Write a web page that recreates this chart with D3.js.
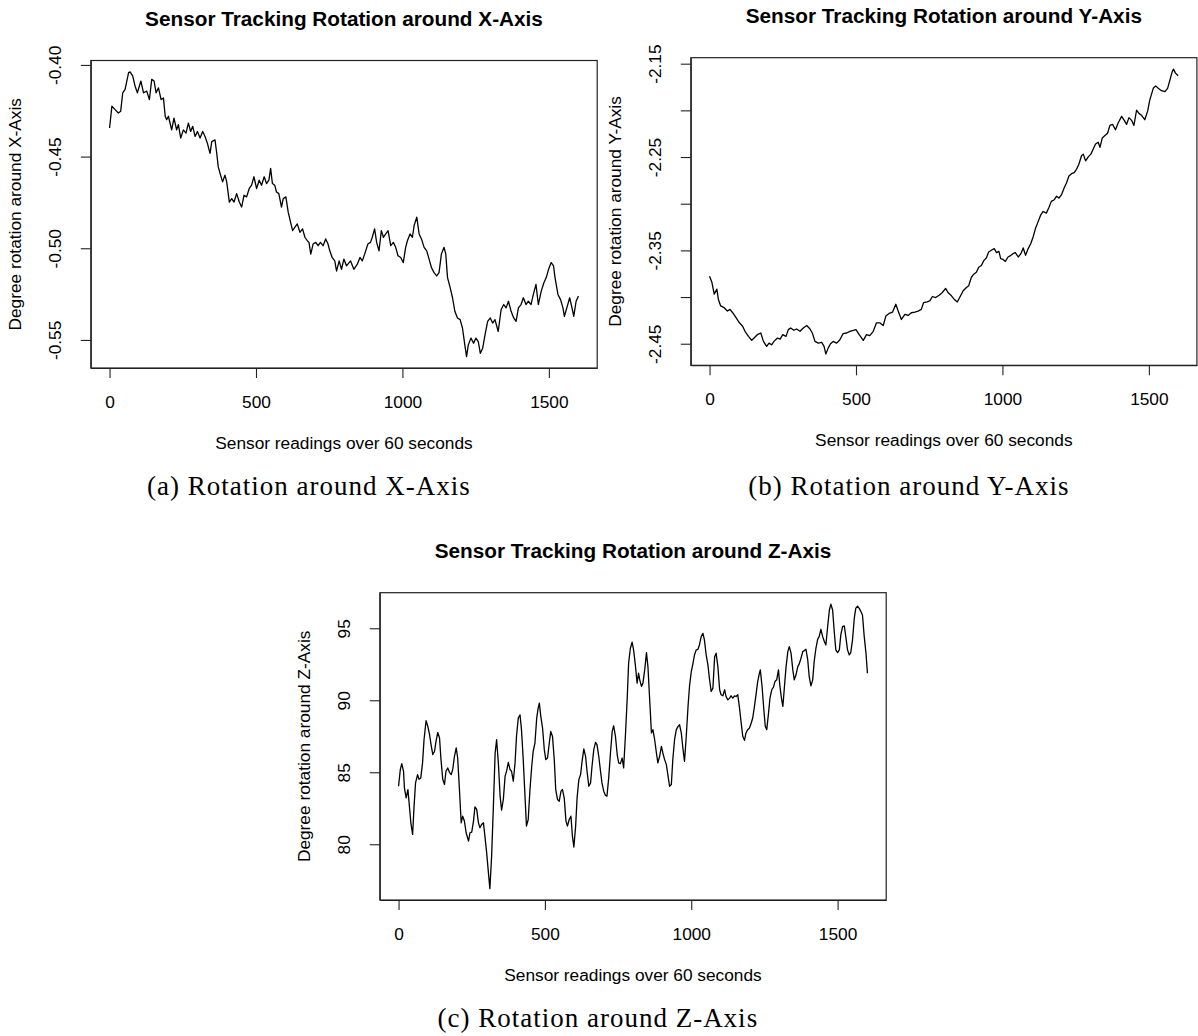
<!DOCTYPE html>
<html>
<head>
<meta charset="utf-8">
<script src="https://cdn.jsdelivr.net/npm/d3@7"></script>
<style>
  body { margin: 0; background: #fff; }
</style>
</head>
<body>
<div id="chart"></div>
<script>
// readings (index, degrees)
const rotationX = [[0,-0.4344],[8,-0.4225],[19,-0.4244],[30,-0.4262],[38,-0.4253],[45,-0.4152],[53,-0.4134],[65,-0.4042],[70,-0.4038],[79,-0.4060],
  [87,-0.4115],[95,-0.4152],[107,-0.4088],[116,-0.4152],[127,-0.4143],[136,-0.4189],[144,-0.4079],[152,-0.4088],[159,-0.4152],[167,-0.4125],
  [176,-0.4189],[184,-0.4180],[190,-0.4280],[195,-0.4299],[201,-0.4280],[212,-0.4354],[220,-0.4290],[229,-0.4354],[235,-0.4326],[243,-0.4399],
  [252,-0.4354],[261,-0.4372],[269,-0.4317],[277,-0.4363],[284,-0.4335],[292,-0.4390],[300,-0.4363],[309,-0.4399],[318,-0.4363],[326,-0.4390],
  [334,-0.4427],[343,-0.4482],[349,-0.4418],[360,-0.4409],[366,-0.4482],[371,-0.4555],[379,-0.4601],[386,-0.4638],[394,-0.4601],[400,-0.4638],
  [409,-0.4748],[417,-0.4729],[425,-0.4748],[434,-0.4702],[443,-0.4748],[451,-0.4775],[459,-0.4711],[468,-0.4720],[477,-0.4674],[485,-0.4656],
  [493,-0.4610],[502,-0.4674],[511,-0.4629],[519,-0.4656],[528,-0.4610],[536,-0.4647],[544,-0.4629],[550,-0.4564],[556,-0.4647],[564,-0.4656],
  [570,-0.4693],[578,-0.4702],[587,-0.4775],[593,-0.4729],[602,-0.4720],[610,-0.4803],[618,-0.4858],[625,-0.4904],[633,-0.4885],[641,-0.4867],
  [650,-0.4913],[659,-0.4894],[667,-0.4940],[675,-0.4959],[681,-0.4968],[687,-0.5032],[695,-0.4977],[704,-0.4968],[712,-0.4986],[720,-0.4968],
  [729,-0.4986],[738,-0.4949],[746,-0.4977],[752,-0.5014],[760,-0.5050],[769,-0.5069],[775,-0.5124],[784,-0.5069],[792,-0.5115],[800,-0.5059],
  [809,-0.5096],[823,-0.5069],[834,-0.5115],[846,-0.5087],[855,-0.5050],[863,-0.5069],[871,-0.5032],[882,-0.4977],[891,-0.4968],[897,-0.4940],
  [905,-0.4894],[912,-0.4968],[920,-0.5014],[928,-0.4904],[935,-0.4940],[943,-0.4922],[951,-0.4904],[960,-0.4986],[969,-0.4968],[977,-0.4995],
  [985,-0.5041],[994,-0.5050],[1003,-0.5078],[1011,-0.4995],[1017,-0.4959],[1026,-0.4922],[1034,-0.4940],[1040,-0.4876],[1049,-0.4830],[1057,-0.4922],
  [1065,-0.4949],[1074,-0.4995],[1083,-0.5014],[1091,-0.5059],[1099,-0.5105],[1108,-0.5133],[1117,-0.5151],[1125,-0.5133],[1133,-0.5032],[1142,-0.4995],
  [1148,-0.5032],[1154,-0.5160],[1163,-0.5215],[1171,-0.5270],[1179,-0.5344],[1188,-0.5380],[1197,-0.5389],[1205,-0.5435],[1213,-0.5527],[1219,-0.5591],
  [1225,-0.5527],[1234,-0.5490],[1243,-0.5518],[1251,-0.5490],[1259,-0.5509],[1266,-0.5573],[1274,-0.5545],[1282,-0.5472],[1291,-0.5399],[1300,-0.5380],
  [1308,-0.5408],[1316,-0.5389],[1327,-0.5454],[1337,-0.5334],[1346,-0.5307],[1354,-0.5325],[1362,-0.5289],[1371,-0.5344],[1380,-0.5380],[1388,-0.5399],
  [1396,-0.5325],[1405,-0.5307],[1413,-0.5270],[1422,-0.5307],[1430,-0.5289],[1439,-0.5307],[1447,-0.5252],[1456,-0.5197],[1464,-0.5307],[1474,-0.5234],
  [1483,-0.5188],[1491,-0.5160],[1499,-0.5115],[1508,-0.5078],[1516,-0.5096],[1521,-0.5160],[1531,-0.5252],[1540,-0.5280],[1548,-0.5325],[1553,-0.5371],
  [1563,-0.5316],[1571,-0.5270],[1579,-0.5325],[1585,-0.5371],[1593,-0.5289],[1601,-0.5261]];

const rotationY = [[0,-2.3777],[8,-2.3842],[16,-2.3969],[25,-2.3915],[30,-2.4023],[38,-2.4095],[50,-2.4114],[61,-2.4150],[70,-2.4132],[79,-2.4168],
  [91,-2.4222],[102,-2.4276],[113,-2.4312],[121,-2.4367],[133,-2.4421],[144,-2.4464],[152,-2.4439],[163,-2.4403],[175,-2.4385],[184,-2.4475],
  [195,-2.4529],[203,-2.4493],[212,-2.4511],[220,-2.4475],[232,-2.4439],[241,-2.4450],[250,-2.4403],[261,-2.4421],[269,-2.4349],[277,-2.4331],
  [288,-2.4356],[297,-2.4342],[309,-2.4367],[320,-2.4331],[332,-2.4305],[343,-2.4342],[351,-2.4385],[360,-2.4475],[371,-2.4493],[383,-2.4486],
  [391,-2.4529],[397,-2.4609],[405,-2.4547],[413,-2.4500],[422,-2.4475],[434,-2.4493],[445,-2.4457],[456,-2.4392],[468,-2.4385],[479,-2.4367],
  [491,-2.4356],[500,-2.4349],[511,-2.4403],[525,-2.4464],[536,-2.4403],[547,-2.4414],[559,-2.4367],[570,-2.4276],[581,-2.4276],[593,-2.4305],
  [602,-2.4204],[613,-2.4175],[625,-2.4161],[636,-2.4077],[644,-2.4150],[655,-2.4240],[667,-2.4186],[678,-2.4197],[689,-2.4168],[701,-2.4161],
  [712,-2.4150],[723,-2.4132],[731,-2.4059],[743,-2.4052],[752,-2.4041],[761,-2.3994],[772,-2.4005],[784,-2.3980],[795,-2.3951],[806,-2.3907],
  [814,-2.3951],[826,-2.3987],[837,-2.4030],[846,-2.4052],[854,-2.4005],[866,-2.3933],[877,-2.3897],[885,-2.3878],[894,-2.3788],[903,-2.3752],
  [911,-2.3734],[919,-2.3680],[928,-2.3662],[937,-2.3607],[945,-2.3582],[953,-2.3517],[962,-2.3499],[972,-2.3481],[980,-2.3524],[988,-2.3510],
  [994,-2.3589],[1002,-2.3597],[1010,-2.3618],[1019,-2.3571],[1029,-2.3553],[1036,-2.3535],[1044,-2.3524],[1054,-2.3571],[1063,-2.3535],[1071,-2.3474],
  [1079,-2.3553],[1088,-2.3481],[1097,-2.3427],[1105,-2.3354],[1113,-2.3264],[1122,-2.3192],[1131,-2.3119],[1139,-2.3083],[1150,-2.3101],[1158,-2.3047],
  [1167,-2.2975],[1177,-2.2957],[1185,-2.2920],[1193,-2.2939],[1202,-2.2902],[1211,-2.2830],[1219,-2.2776],[1227,-2.2703],[1236,-2.2678],[1245,-2.2667],
  [1253,-2.2631],[1261,-2.2577],[1270,-2.2487],[1276,-2.2469],[1284,-2.2541],[1293,-2.2498],[1302,-2.2469],[1310,-2.2414],[1318,-2.2360],[1327,-2.2342],
  [1333,-2.2396],[1341,-2.2295],[1350,-2.2270],[1359,-2.2245],[1367,-2.2161],[1376,-2.2150],[1386,-2.2208],[1395,-2.2136],[1407,-2.2064],[1416,-2.2107],
  [1424,-2.2150],[1432,-2.2078],[1441,-2.2107],[1449,-2.2161],[1458,-2.1999],[1467,-2.2035],[1475,-2.2053],[1486,-2.2100],[1496,-2.2006],[1503,-2.1890],
  [1515,-2.1764],[1523,-2.1738],[1532,-2.1764],[1543,-2.1789],[1555,-2.1800],[1564,-2.1764],[1572,-2.1673],[1580,-2.1583],[1584,-2.1558],[1591,-2.1601],
  [1600,-2.1630]];

const rotationZ = [[0,84.03],[6,85.19],[11,85.60],[17,85.07],[20,83.92],[26,83.22],[32,83.80],[36,82.88],[42,81.49],[48,80.68],
  [53,82.65],[58,84.26],[65,84.84],[70,84.51],[76,84.61],[82,85.65],[87,87.26],[94,88.58],[100,88.19],[106,87.61],
  [111,86.92],[117,86.23],[123,86.46],[128,87.15],[134,87.77],[140,87.38],[145,85.88],[151,84.51],[157,84.15],[162,85.07],
  [168,85.30],[174,85.00],[180,84.84],[185,85.19],[191,86.11],[197,86.69],[202,85.99],[208,83.80],[214,81.49],[219,81.95],
  [225,81.61],[231,80.80],[239,80.22],[244,80.80],[250,80.85],[256,81.61],[261,82.60],[267,82.42],[273,81.49],[278,81.15],
  [284,81.38],[290,81.49],[295,80.57],[301,79.42],[307,78.03],[312,76.92],[318,79.19],[324,82.65],[330,86.34],[335,87.26],
  [341,85.65],[347,83.34],[352,82.37],[358,83.11],[364,84.73],[369,85.07],[375,85.69],[381,85.19],[386,85.07],[392,84.38],
  [398,85.65],[403,87.50],[409,88.76],[415,88.99],[420,87.96],[426,85.88],[432,83.34],[437,81.26],[443,81.72],[449,83.80],
  [455,85.42],[460,86.46],[466,87.03],[472,88.76],[477,89.46],[481,89.80],[486,88.88],[492,88.07],[498,86.57],[503,85.88],
  [509,85.99],[515,87.03],[520,87.84],[526,87.49],[532,85.88],[537,83.80],[543,83.11],[549,82.99],[555,83.69],[560,83.80],
  [566,83.22],[572,81.61],[577,81.26],[583,81.72],[589,81.95],[594,80.57],[599,79.81],[605,81.26],[610,83.22],[616,84.49],
  [622,84.84],[627,85.76],[633,86.62],[639,86.11],[644,85.07],[650,84.03],[656,84.26],[661,85.42],[667,86.57],[673,87.08],
  [678,86.92],[684,86.11],[690,85.07],[695,84.26],[701,83.69],[707,83.39],[712,83.34],[718,84.61],[724,86.34],[730,87.84],
  [735,88.23],[741,87.50],[747,86.23],[752,85.65],[758,85.60],[764,85.99],[769,85.30],[775,87.50],[781,90.03],[786,92.57],
  [792,93.61],[798,94.03],[803,93.50],[809,92.46],[815,91.19],[820,91.88],[824,91.42],[830,90.96],[835,91.19],[841,92.11],
  [847,93.31],[852,92.34],[858,90.03],[864,87.73],[869,87.96],[875,87.26],[881,86.34],[886,85.65],[892,86.11],[898,86.80],
  [903,86.34],[909,85.88],[915,85.53],[920,84.84],[926,84.03],[932,84.15],[937,85.88],[943,87.26],[949,87.96],[955,88.19],
  [960,88.30],[966,87.73],[972,86.57],[977,85.76],[983,87.50],[989,89.57],[994,90.96],[1000,91.98],[1006,92.57],[1011,93.15],
  [1017,93.50],[1023,93.54],[1028,93.84],[1034,94.42],[1040,94.65],[1045,94.19],[1051,93.15],[1057,92.46],[1062,91.53],[1068,90.61],
  [1074,90.84],[1080,93.03],[1085,93.27],[1091,92.34],[1097,90.73],[1102,90.38],[1108,90.31],[1114,90.73],[1119,90.26],[1125,90.03],
  [1131,90.15],[1136,90.31],[1142,90.15],[1148,90.31],[1153,90.26],[1159,90.38],[1165,89.46],[1170,88.53],[1176,87.50],[1182,87.22],
  [1187,87.73],[1193,87.96],[1199,88.07],[1205,88.42],[1210,88.77],[1216,89.57],[1222,90.50],[1227,91.30],[1233,91.88],[1236,92.11],
  [1242,90.96],[1248,89.34],[1253,88.19],[1258,87.96],[1264,89.11],[1269,90.15],[1275,90.73],[1281,90.91],[1286,91.30],[1292,91.42],
  [1298,92.11],[1303,90.96],[1309,90.03],[1313,89.57],[1318,90.84],[1324,92.34],[1330,93.38],[1335,93.73],[1341,93.27],[1347,92.11],
  [1352,91.42],[1358,91.77],[1364,92.34],[1369,92.53],[1375,92.92],[1381,93.38],[1386,93.45],[1392,93.54],[1398,92.80],[1403,91.65],
  [1409,91.00],[1415,91.42],[1420,92.69],[1426,93.61],[1432,94.24],[1437,94.42],[1443,94.93],[1449,94.42],[1455,94.07],[1460,93.84],
  [1466,95.11],[1472,96.27],[1477,96.68],[1483,96.27],[1489,94.65],[1494,93.50],[1500,93.31],[1506,93.50],[1511,94.54],[1517,95.11],
  [1523,95.16],[1528,94.42],[1534,93.50],[1540,93.15],[1545,93.31],[1551,94.19],[1557,95.69],[1562,96.38],[1568,96.54],[1574,96.38],
  [1580,96.15],[1585,95.92],[1591,94.42],[1597,93.27],[1602,91.88]];

const xTicks = [0, 500, 1000, 1500];
const yTicksX = [-0.55, -0.50, -0.45, -0.40];
const yLabelsX = ["-0.55", "-0.50", "-0.45", "-0.40"];
const yTicksY = [-2.45, -2.40, -2.35, -2.30, -2.25, -2.20, -2.15];
const yLabelsY = ["-2.45", "", "-2.35", "", "-2.25", "", "-2.15"];
const yTicksZ = [80, 85, 90, 95];
const yLabelsZ = ["80", "85", "90", "95"];

const sans = "'Liberation Sans', Arial, Helvetica, sans-serif";
const serif = "'Liberation Serif', 'Times New Roman', serif";
const baseSize = 17.3;

const svg = d3.select("#chart")
  .append("svg")
  .attr("width", 1198)
  .attr("height", 1036)
  .style("background", "#fff");

// R style axis range: data range padded 4% on each side
function padRange(ext) {
  const d = (ext[1] - ext[0]) * 0.04;
  return [ext[0] - d, ext[1] + d];
}

function drawPanel(p) {
  const box = p.box;
  const cx = (box.left + box.right) / 2;

  const x = d3.scaleLinear()
    .domain(padRange(d3.extent(p.data, d => d[0])))
    .range([box.left, box.right]);

  const y = d3.scaleLinear()
    .domain(padRange(d3.extent(p.data, d => d[1])))
    .range([box.bottom, box.top]);

  // x axis
  const gx = svg.append("g")
    .attr("transform", "translate(0," + box.bottom + ")")
    .call(d3.axisBottom(x).tickValues(xTicks).tickSize(10).tickSizeOuter(0).tickFormat(d3.format("d")));
  gx.attr("font-family", sans).attr("font-size", baseSize);
  gx.selectAll("text").attr("y", 39.5).attr("dy", 0).attr("fill", "#000");
  gx.selectAll("line,path").attr("stroke", "#222").attr("stroke-width", 1.1);

  // y axis, labels parallel to the axis
  const gy = svg.append("g")
    .attr("transform", "translate(" + box.left + ",0)")
    .call(d3.axisLeft(y).tickValues(p.yTicks).tickSize(10).tickSizeOuter(0).tickFormat((d, i) => p.yLabels[i]));
  gy.attr("font-family", sans).attr("font-size", baseSize);
  gy.selectAll("text")
    .attr("x", 0)
    .attr("dy", 0)
    .attr("fill", "#000")
    .attr("text-anchor", "middle")
    .attr("transform", "translate(-29.5,0) rotate(-90)");
  gy.selectAll("line,path").attr("stroke", "#222").attr("stroke-width", 1.1);

  // plot frame
  svg.append("rect")
    .attr("x", box.left)
    .attr("y", box.top)
    .attr("width", box.right - box.left)
    .attr("height", box.bottom - box.top)
    .attr("fill", "none")
    .attr("stroke", "#222")
    .attr("stroke-width", 1.2);

  // the sensor trace
  const line = d3.line()
    .x(d => x(d[0]))
    .y(d => y(d[1]));

  svg.append("path")
    .datum(p.data)
    .attr("d", line)
    .attr("fill", "none")
    .attr("stroke", "#000")
    .attr("stroke-width", 1.3)
    .attr("stroke-linejoin", "round");

  // title
  svg.append("text")
    .attr("x", cx)
    .attr("y", box.top - 35)
    .attr("text-anchor", "middle")
    .attr("font-family", sans)
    .attr("font-weight", "bold")
    .attr("font-size", baseSize * 1.2)
    .text(p.title);

  // x axis label
  svg.append("text")
    .attr("x", cx)
    .attr("y", box.bottom + 81)
    .attr("text-anchor", "middle")
    .attr("font-family", sans)
    .attr("font-size", baseSize)
    .text("Sensor readings over 60 seconds");

  // y axis label
  svg.append("text")
    .attr("transform", "translate(" + (box.left - 69.5) + "," + ((box.top + box.bottom) / 2) + ") rotate(-90)")
    .attr("text-anchor", "middle")
    .attr("font-family", sans)
    .attr("font-size", baseSize)
    .text(p.yTitle);

  // sub-figure caption
  svg.append("text")
    .attr("x", box.left + 218)
    .attr("y", p.captionY)
    .attr("text-anchor", "middle")
    .attr("font-family", serif)
    .attr("font-size", 27)
    .style("letter-spacing", "1px")
    .text(p.caption);
}

drawPanel({
  data: rotationX,
  box: { left: 90.8, top: 60.5, right: 597.2, bottom: 368 },
  yTicks: yTicksX,
  yLabels: yLabelsX,
  title: "Sensor Tracking Rotation around X-Axis",
  yTitle: "Degree rotation around X-Axis",
  caption: "(a) Rotation around X-Axis",
  captionY: 495
});

drawPanel({
  data: rotationY,
  box: { left: 690.8, top: 57.7, right: 1196.9, bottom: 365.3 },
  yTicks: yTicksY,
  yLabels: yLabelsY,
  title: "Sensor Tracking Rotation around Y-Axis",
  yTitle: "Degree rotation around Y-Axis",
  caption: "(b) Rotation around Y-Axis",
  captionY: 495
});

drawPanel({
  data: rotationZ,
  box: { left: 379.8, top: 592.7, right: 886.2, bottom: 900 },
  yTicks: yTicksZ,
  yLabels: yLabelsZ,
  title: "Sensor Tracking Rotation around Z-Axis",
  yTitle: "Degree rotation around Z-Axis",
  caption: "(c) Rotation around Z-Axis",
  captionY: 1027
});
</script>
</body>
</html>
